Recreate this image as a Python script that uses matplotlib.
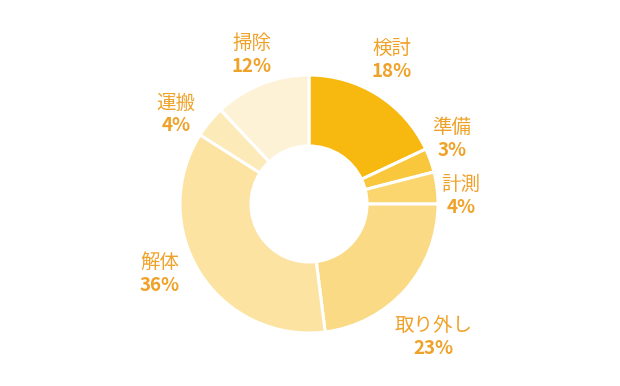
import numpy as np
import matplotlib
matplotlib.use("Agg")
import matplotlib.pyplot as plt

plt.rcParams['font.family'] = ['Noto Sans CJK JP', 'DejaVu Sans']

# data
labels = ['検討', '準備', '計測', '取り外し', '解体', '運搬', '掃除']
shares = [18, 3, 4, 23, 36, 4, 12]
colors = ['#F7B90F', '#F9C73C', '#FBD56E', '#FBDA86', '#FCE3A1', '#FDEAB9', '#FEF2D6']

# layout (pixels)
center = (309, 386 - 204)
outer_r = 129
inner_r = 58
label_r = [166, 157, 152, 182, 165, 160, 159]
label_shift = [-2.4, -4.6, 4.4, 5.6, 7.2, -5.8, 0.6]  # degrees, clockwise
text_color = '#EFA128'

fig = plt.figure(figsize=(6.2, 3.86), dpi=100)
ax = fig.add_axes([0, 0, 1, 1])

ax.pie(shares, colors=colors, startangle=90, counterclock=False,
       center=center, radius=outer_r,
       wedgeprops=dict(width=outer_r - inner_r, edgecolor='white', linewidth=2.2))

# pie() resets the limits, so set them afterwards
ax.set_xlim(0, 620)
ax.set_ylim(0, 386)
ax.set_aspect('equal')
ax.axis('off')

total = sum(shares)
cum = 0
for name, val, r, shift in zip(labels, shares, label_r, label_shift):
    mid = (cum + val / 2) / total
    cum += val
    theta = np.deg2rad(90 - 360 * mid - shift)
    x = center[0] + r * np.cos(theta)
    y = center[1] + r * np.sin(theta)
    ax.text(x, y + 12, name, ha='center', va='center', fontsize=14,
            color=text_color)
    ax.text(x, y - 11, f'{val}%', ha='center', va='center', fontsize=13.5,
            fontweight='bold', color=text_color)

fig.savefig('out.png', dpi=100)
